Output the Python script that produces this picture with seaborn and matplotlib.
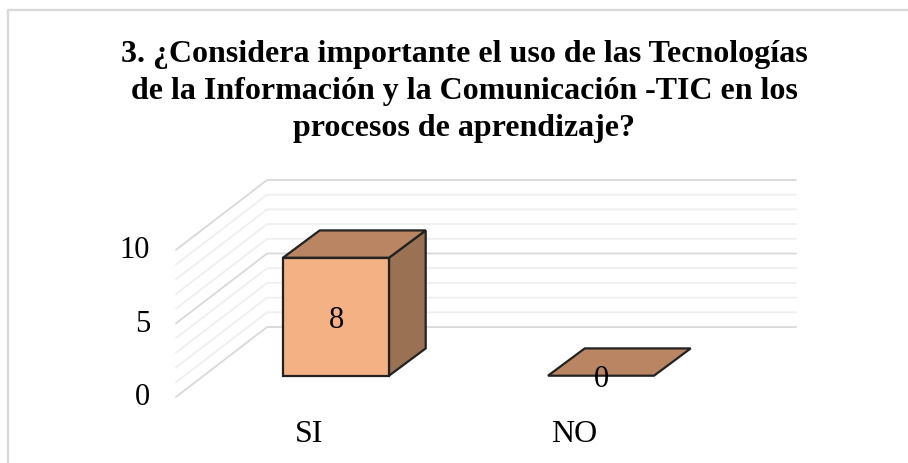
import matplotlib
matplotlib.use('Agg')
import matplotlib.pyplot as plt
import seaborn as sns
import pandas as pd
from matplotlib.lines import Line2D
from matplotlib.patches import Polygon

categories = ['SI', 'NO']
values = [8, 0]
y_labels = [0, 5, 10]
all_grid = [0, 1, 2, 3, 4, 5, 6, 7, 8, 9, 10]
title = ('3. ¿Considera importante el uso de las Tecnologías\n'
         'de la Información y la Comunicación -TIC en los\n'
         'procesos de aprendizaje?')

W, H = 908, 463
sns.set_theme(style='white')
plt.rcParams['font.family'] = ['Liberation Serif', 'DejaVu Serif']

fig = plt.figure(figsize=(W / 100, H / 100), dpi=100)
# slot width 265 px, 14.75 px per unit, baseline at y=375.7 px
ax = fig.add_axes([203.5 / W, 1 - 375.7 / H, 530 / W, 147.5 / H])

df = pd.DataFrame({'cat': categories, 'val': values})
sns.barplot(data=df, x='cat', y='val', color='#F4B183', saturation=1, width=0.4,
            edgecolor='#222222', linewidth=1.6, ax=ax, zorder=3, clip_on=False)
ax.set_xlabel('')
ax.set_ylabel('')
sns.despine(ax=ax, left=True, bottom=True)

# pseudo 3d walls
bar_dx, bar_dy = 0.1385, 1.85
left_x, back_x, right_x = -0.604, -0.26, 1.736
left_y0, back_y0 = -1.44, 3.30
grid_scale = 0.997
for v in all_grid:
    major = v % 5 == 0
    ax.plot([left_x, back_x, right_x],
            [left_y0 + v * grid_scale, back_y0 + v * grid_scale, back_y0 + v * grid_scale],
            color='#D9D9D9' if major else '#EFEFEF', lw=1.3, clip_on=False, zorder=1)

# top and side faces built from the bars
for bar, val in zip(ax.patches, values):
    x0, x1 = bar.get_x(), bar.get_x() + bar.get_width()
    top = bar.get_height()
    ax.add_patch(Polygon([(x0, top), (x1, top), (x1 + bar_dx, top + bar_dy), (x0 + bar_dx, top + bar_dy)],
                         facecolor='#B98562', edgecolor='#222222', lw=1.6, clip_on=False, zorder=4))
    if val > 0:
        ax.add_patch(Polygon([(x1, 0), (x1 + bar_dx, bar_dy), (x1 + bar_dx, top + bar_dy), (x1, top)],
                             facecolor='#9A7153', edgecolor='#222222', lw=1.6, clip_on=False, zorder=2))
    else:
        bar.set_visible(False)
    ax.text(bar.get_x() + bar.get_width() / 2, val / 2 - 0.28, str(val), ha='center', va='center',
            fontsize=22, color='black', zorder=5)

ax.set_xticks([i - 0.1 for i in range(len(categories))])
ax.set_xticklabels(categories, fontsize=23, color='black')
ax.set_yticks([])
# the wall starts below the baseline, so these labels sit outside the y limits
for v in y_labels:
    ax.text(-0.702, left_y0 + v * grid_scale - 0.07, str(v), ha='right', va='center',
            fontsize=22, color='black', clip_on=False)
ax.set_xlim(-0.5, 1.5)
ax.set_ylim(0, 10)
ax.tick_params(axis='x', length=0, pad=32)

fig.text(464 / W, 1 - 40 / H, title, ha='center', va='top', fontsize=23, fontweight='bold',
         linespacing=1.36, color='black')

# chart frame, cut off by the image
fig.add_artist(Line2D([8 / W, 8 / W, 908 / W], [0, 1 - 10 / H, 1 - 10 / H], color='#D9D9D9', lw=1.7))

fig.savefig('out.png', dpi=100)
